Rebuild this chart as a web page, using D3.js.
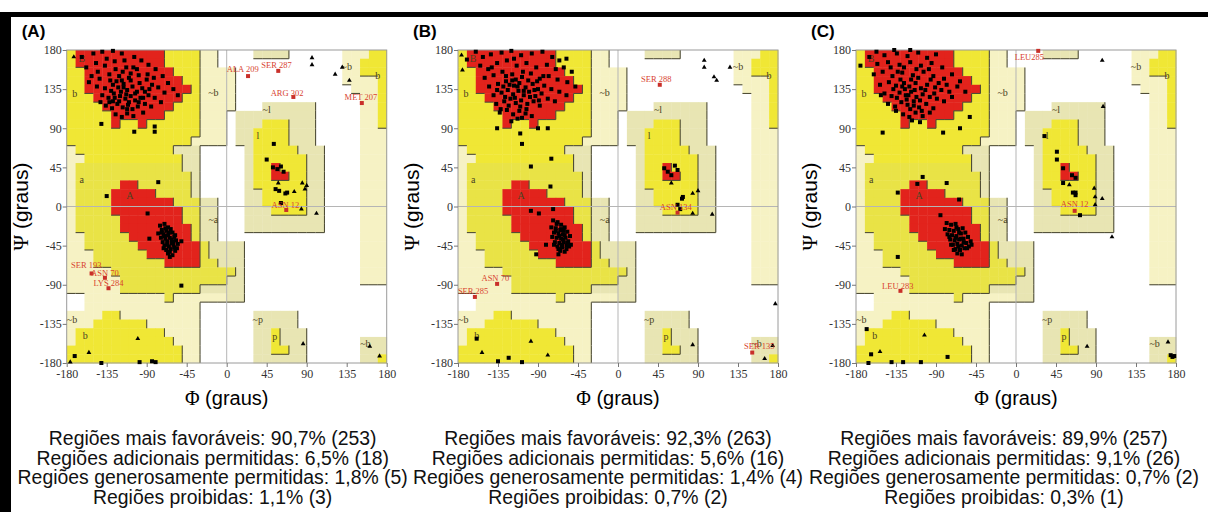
<!DOCTYPE html>
<html>
<head>
<meta charset="utf-8">
<script src="https://d3js.org/d3.v7.min.js"></script>
<style>
  body { margin: 0; background: #fff; }
  svg { display: block; }
</style>
</head>
<body>
<svg width="1208" height="512"></svg>
<script>
// Ramachandran region map, 10 degree cells. Row 0 is psi 170..180, column 0 is phi -180..-170
// . disallowed, c / t generously allowed, y / o additionally allowed, r most favoured
const regionRows = [
    "yrrrrrrrrrryyyycc....tttt......cccyy",
    "yrrrrrrrrrryyyycc..............ccyyy",
    "yyrrrrrrrrrryyycccc............ccyyy",
    "yyrrrrrrrrrrryycccc............ccccy",
    "yyrrrrrrrrrrrrycccc.............cccy",
    "yyyrrrrrrrrrryycccc..............ccy",
    "yyyyrrrrrrrryyycccc...tttttt.....ccy",
    "yyyyyrrrrrryyyyccc.ttttttttt.....ccy",
    "yyyyyryyryyyyyyccc.tttyyyttt.....ccy",
    "yyyyyyyyyyyyyyyccc.ttyyyyttt.....ccc",
    "yyyyyyyyyyyyyycccc.ttyyyyttt.....ccc",
    "cyyyyyyyyyyyttt.....tyyyyyttt....ccc",
    "ccyyyyyyyyyyytt.....tyyyyyytt....ccc",
    "coooooooooooott.....tyyryyytt....ccc",
    "cooooooooooooot.....tyyrryytt....ccc",
    "cooooorroooooot.....tyyyyyytt....ccc",
    "coooorrrrroooot.....ttyyyyytt....ccc",
    "coooorrrrrrrooott...ttyyyyytt....ccc",
    "coooorrrrrrrroott...tttyyyytt....ccc",
    "cooooorrrrrrroott...ttttttttt....ccc",
    "cooooorrrrrrrrott...ttttttttt....ccc",
    "ccooooorrrrrrrott................ccc",
    "ccoooooorrrrrrrotttt.............ccc",
    "cccoooooorrrrrrotttt.............ccc",
    "cccoooooooorrrroottt.............ccc",
    "cccccoooooooooooooot.............ccc",
    "ccccccoooooooooooott.............ccc",
    "ccccccooooooooottttt................",
    "..cccccccccocccccctt................",
    "..ccccccccccccc.....................",
    "ccccyyccccccccc......ttttt..........",
    "cccyyyyyycccccc......ttttt..........",
    "cyyyyyyyyyycccc......ttyttt.........",
    "cyyyyyyyyyyyccc......ttyttt......ttt",
    "yyyyyyyyyyyyycc......ttyytt......ttt",
    "yyyyyyyyyyyyycc......tttttt......tty"
];

const regionTags = [
    ["B", -163, 166], ["b", -171, 126], ["~b", -15, 127], ["a", -163, 27], ["A", -109, 9],
    ["~a", -15, -19], ["~l", 45, 107], ["l", 35, 78], ["~b", 135, 157], ["b", 170, 147],
    ["~b", -174, -134], ["b", -159, -152], ["~p", 35, -134], ["p", 54, -154], ["~b", 156, -162]
];

const phiTicks = [-180, -135, -90, -45, 0, 45, 90, 135, 180];
const psiTicks = [-180, -135, -90, -45, 0, 45, 90, 135, 180];

const statLabels = ["Regiões mais favoráveis", "Regiões adicionais permitidas",
    "Regiões generosamente permitidas", "Regiões proibidas"];

const panelNames = ["(A)", "(B)", "(C)"];

const statPctA = [90.7, 6.5, 1.8, 1.1];
const statCountA = [253, 18, 5, 3];
const statPctB = [92.3, 5.6, 1.4, 0.7];
const statCountB = [263, 16, 4, 2];
const statPctC = [89.9, 9.1, 0.7, 0.3];
const statCountC = [257, 26, 2, 1];

// residue points [phi, psi]
const squaresA = [
    [-163,172],[-150,176],[-140,178],[-128,179],[-118,176],[-104,172],[-96,168],[-88,163],[-158,160],[-147,165],
    [-137,162],[-126,167],[-113,160],[-101,158],[-80,158],[-72,150],[-66,142],[-152,150],[-143,147],[-132,152],
    [-121,150],[-110,148],[-99,151],[-90,146],[-84,140],[-77,137],[-70,131],[-60,135],[-55,128],[-146,138],
    [-137,136],[-128,140],[-122,137],[-116,141],[-112,134],[-106,138],[-101,132],[-95,136],[-88,128],[-81,125],
    [-74,120],[-140,128],[-133,125],[-127,130],[-120,127],[-114,124],[-108,127],[-103,122],[-97,125],[-92,118],
    [-85,115],[-136,116],[-129,113],[-123,118],[-117,114],[-111,117],[-106,112],[-100,115],[-94,108],[-125,106],
    [-118,103],[-112,107],[-105,104],[-132,120],[-119,132],[-124,144],[-117,155],[-108,145],[-130,133],[-113,129],
    [-98,142],[-142,120],[-89,152],[-105,160],[-125,158],[-135,170],[-115,168],[-145,155],[-155,143],[-92,132],
    [-82,148],[-121,121],[-110,120],[-126,125],[-116,137],[-103,130],[-94,125],[-131,145],[-108,153],[-99,120],
    [-87,135],[-118,145],[-112,112],[-128,121],
    [-75,-22],[-70,-20],[-66,-24],[-73,-27],[-68,-28],[-63,-26],[-77,-31],[-71,-32],[-66,-33],[-61,-30],
    [-74,-36],[-69,-37],[-64,-36],[-59,-35],[-72,-41],[-67,-40],[-62,-42],[-57,-39],[-70,-45],[-65,-46],
    [-60,-44],[-55,-43],[-68,-50],[-63,-49],[-58,-51],[-66,-54],[-61,-56],[-64,-58],[-70,-34],[-62,-38],
    [-67,-44],[-59,-47],[-73,-30],[-65,-30],[-69,-25],[-60,-40],[-64,-52],[-71,-48],[-56,-48],[-58,-33],
    [-141,95],[-104,86],[-81,92],[-81,86],[-77,28],[-135,12],[-89,-8],[-87,-37],[-51,-40],[-51,-91],
    [-171,-172],[-141,-180],[-98,-179],[-84,-178],[-80,-179],
    [53,72],[45,54],[52,45],[57,43],[61,46],[64,40],[55,20],[59,18],[66,15],[61,4],[68,16]
];
const trianglesA = [
    [-172,172],[-176,-179],[-155,-168],[-100,-152],[86,-158],[161,-161],[172,-172],[58,27],[76,17],[85,27],
    [88,20],[90,24],[84,-3],[101,-8],[96,171],[96,163],[122,152],[130,160],[138,145]
];
const labelledA = [
    ["ALA 209", 24, 150, 18, 155], ["SER 287", 58, 156, 56, 159], ["ARG 302", 75, 126, 68, 127],
    ["MET 207", 152, 119, 151, 122], ["ASN 12", 67, -4, 66, -2], ["SER 193", -152, -77, -158, -71],
    ["ASN 70", -137, -82, -137, -80], ["LYS 284", -133, -94, -133, -91]
];

const squaresB = [
    [-160,178],[-152,172],[-143,175],[-131,177],[-120,179],[-109,174],[-97,176],[-85,178],[-74,172],[-66,168],
    [-58,170],[-155,162],[-146,158],[-136,165],[-125,168],[-114,162],[-103,165],[-92,160],[-80,163],[-70,158],
    [-61,160],[-52,155],[-150,148],[-140,151],[-130,155],[-119,152],[-108,149],[-98,153],[-88,147],[-78,150],
    [-68,146],[-57,143],[-48,138],[-145,138],[-135,141],[-126,144],[-117,139],[-111,142],[-104,137],[-96,141],
    [-90,135],[-83,139],[-75,135],[-66,132],[-58,128],[-140,128],[-131,131],[-124,134],[-118,129],[-112,133],
    [-106,128],[-100,132],[-93,127],[-86,130],[-79,124],[-71,121],[-137,118],[-128,121],[-121,124],[-115,119],
    [-109,122],[-102,118],[-95,121],[-88,116],[-133,108],[-125,111],[-118,106],[-111,110],[-104,107],[-97,104],
    [-120,98],[-113,101],[-122,140],[-115,146],[-107,155],[-127,126],[-116,125],[-101,145],[-91,144],[-136,134],
    [-129,138],[-110,115],[-99,126],[-123,116],[-106,133],[-113,138],[-119,145],[-94,134],[-84,150],[-126,150],
    [-142,160],[-117,170],[-103,112],[-132,112],[-108,102],[-89,122],
    [-73,-16],[-68,-18],[-64,-21],[-75,-24],[-70,-25],[-65,-27],[-60,-24],[-72,-30],[-67,-31],[-62,-32],
    [-57,-29],[-74,-35],[-69,-36],[-64,-37],[-59,-36],[-54,-34],[-71,-41],[-66,-42],[-61,-41],[-56,-40],
    [-68,-46],[-63,-47],[-58,-45],[-53,-44],[-65,-51],[-60,-52],[-67,-55],[-62,-38],[-70,-28],[-58,-49],
    [-66,-34],[-63,-44],[-69,-20],[-61,-28],[-72,-44],[-55,-46],[-64,-26],[-60,-33],[-67,-49],[-57,-42],
    [-170,169],[-136,90],[-110,84],[-108,72],[-90,90],[-79,90],[-75,55],[-98,46],[-76,23],[-98,-5],
    [-89,-8],[-73,-3],[-81,-44],[-92,-55],[-159,-152],[-135,-178],[-123,-174],[-108,-179],
    [52,44],[56,40],[60,36],[64,47],[67,42],[73,11],[67,2],[72,9],[70,-3]
];
const trianglesB = [
    [-176,174],[-175,157],[-153,-168],[-98,-155],[-79,-171],[84,-159],[174,-160],[165,-175],[177,-112],[97,168],
    [97,160],[108,149],[111,145],[126,160],[60,27],[84,-8],[106,-9],[84,15],[90,18]
];
const labelledB = [
    ["SER 288", 47, 140, 43, 143], ["ASN 134", 67, -7, 65, -4], ["ASN 70", -136, -89, -138, -86],
    ["SER 285", -161, -104, -163, -101], ["SER 135", 151, -168, 159, -164]
];

const squaresC = [
    [-165,172],[-148,174],[-134,176],[-122,173],[-110,177],[-100,171],[-90,175],[-156,164],[-144,166],[-131,163],
    [-119,166],[-107,162],[-95,165],[-83,160],[-160,152],[-150,155],[-139,150],[-128,154],[-116,151],[-104,155],
    [-93,150],[-81,147],[-72,152],[-63,144],[-153,140],[-143,143],[-135,139],[-126,142],[-120,138],[-113,142],
    [-107,136],[-100,140],[-91,137],[-84,134],[-75,132],[-66,138],[-57,132],[-148,130],[-140,127],[-131,131],
    [-124,128],[-118,132],[-112,126],[-105,129],[-97,126],[-89,124],[-81,121],[-72,126],[-144,118],[-136,115],
    [-129,120],[-122,117],[-115,121],[-109,114],[-101,118],[-93,113],[-127,106],[-120,103],[-113,108],[-105,104],
    [-134,125],[-125,135],[-118,146],[-130,146],[-110,148],[-102,134],[-96,146],[-123,123],[-138,135],[-115,116],
    [-108,122],[-87,142],[-78,140],[-141,160],[-126,160],[-112,158],[-98,158],[-152,128],[-135,110],[-119,112],
    [-106,110],[-92,130],[-121,128],[-128,138],[-114,134],[-133,155],[-97,108],[-108,97],[-117,99],
    [-78,-19],[-73,-21],[-68,-20],[-80,-26],[-75,-27],[-70,-28],[-65,-26],[-60,-25],[-77,-32],[-72,-33],
    [-67,-34],[-62,-31],[-57,-30],[-74,-38],[-69,-39],[-64,-38],[-59,-37],[-54,-35],[-71,-44],[-66,-43],
    [-61,-45],[-56,-42],[-51,-40],[-68,-49],[-63,-50],[-58,-48],[-53,-46],[-66,-54],[-61,-55],[-70,-50],
    [-64,-30],[-59,-41],[-73,-44],[-67,-24],[-62,-37],[-55,-48],[-75,-35],[-68,-36],[-50,-44],[-65,-46],
    [-175,162],[-157,178],[-137,180],[-119,180],[-52,103],[-150,85],[-82,85],[-63,90],[-105,34],[-111,26],
    [-78,27],[-133,16],[-64,8],[-85,-10],[-133,-58],[-168,-141],[-163,-170],[-166,-180],[-140,-179],[-127,-179],
    [-107,-179],[-77,-173],[174,-171],[176,-173],[178,-172],
    [32,81],[46,63],[46,54],[53,44],[63,36],[67,33],[53,27],[64,16],[67,13],[67,16],[72,-10]
];
const trianglesC = [
    [97,168],[98,115],[60,25],[88,21],[89,2],[89,11],[97,9],[108,-35],[-153,-167],[-103,-148],[80,-161],[171,-156]
];
const labelledC = [
    ["LEU285", 25, 179, 15, 168], ["ASN 12", 66, -5, 66, -1], ["LEU 283", -130, -97, -133, -95]
];

const panels = [
    { name: panelNames[0], left: 66.7, statShift: -14, pct: statPctA, count: statCountA, squares: squaresA, triangles: trianglesA, labelled: labelledA },
    { name: panelNames[1], left: 458, statShift: -10, pct: statPctB, count: statCountB, squares: squaresB, triangles: trianglesB, labelled: labelledB },
    { name: panelNames[2], left: 856, statShift: -12, pct: statPctC, count: statCountC, squares: squaresC, triangles: trianglesC, labelled: labelledC }
];

const svg = d3.select("svg");
const level = { ".": 0, c: 1, t: 1, y: 2, o: 2, r: 3 };
const fill = { ".": "#ffffff", c: "#f6f2c4", t: "#e8e5b3", y: "#f0e735", o: "#e9e346", r: "#e2231c" };
const fmt = v => d3.format(".1f")(v).replace(".", ",");

const cells = [];
regionRows.forEach((row, j) => row.split("").forEach((code, i) => {
    cells.push({ i, j, code, phi: -180 + i * 10, psi: 180 - j * 10 });
}));

// PROCHECK style edge: dark line where the cell on the left/top is better than its neighbour
const edges = [];
cells.forEach(d => {
    const lv = level[d.code];
    if (d.i < 35 && lv > level[regionRows[d.j][d.i + 1]])
        edges.push([d.phi + 10, d.psi, d.phi + 10, d.psi - 10]);
    if (d.j < 35 && lv > level[regionRows[d.j + 1][d.i]])
        edges.push([d.phi, d.psi - 10, d.phi + 10, d.psi - 10]);
});

// frame
svg.append("rect").attr("x", 6).attr("y", 12).attr("width", 1202).attr("height", 5).attr("fill", "#000");
svg.append("rect").attr("x", 0).attr("y", 12).attr("width", 11).attr("height", 500).attr("fill", "#000");

const drawPanel = (p) => {
    const x = d3.scaleLinear().domain([-180, 180]).range([p.left, p.left + 320]);
    const y = d3.scaleLinear().domain([-180, 180]).range([363, 50]);
    const g = svg.append("g");

    g.append("g").selectAll("rect")
        .data(cells)
        .join("rect")
        .attr("x", d => x(d.phi))
        .attr("y", d => y(d.psi))
        .attr("width", x(10) - x(0) + 0.4)
        .attr("height", y(0) - y(10) + 0.4)
        .attr("fill", d => fill[d.code]);

    g.append("g").selectAll("line")
        .data(edges)
        .join("line")
        .attr("x1", d => x(d[0])).attr("y1", d => y(d[1]))
        .attr("x2", d => x(d[2])).attr("y2", d => y(d[3]))
        .attr("stroke", "#4f4d36")
        .attr("stroke-width", 1.1);

    g.append("line").attr("x1", x(0)).attr("x2", x(0)).attr("y1", y(180)).attr("y2", y(-180))
        .attr("stroke", "#b5b5b5").attr("stroke-width", 1);
    g.append("line").attr("x1", x(-180)).attr("x2", x(180)).attr("y1", y(0)).attr("y2", y(0))
        .attr("stroke", "#b5b5b5").attr("stroke-width", 1);
    g.append("rect")
        .attr("x", x(-180)).attr("y", y(180))
        .attr("width", x(180) - x(-180)).attr("height", y(-180) - y(180))
        .attr("fill", "none").attr("stroke", "#9a9a9a").attr("stroke-width", 1);

    g.append("g").selectAll("text")
        .data(regionTags)
        .join("text")
        .attr("x", d => x(d[1]))
        .attr("y", d => y(d[2]))
        .attr("text-anchor", "middle")
        .attr("font-family", "Liberation Serif")
        .attr("font-size", 10)
        .attr("fill", "#4a4222")
        .text(d => d[0]);

    const yAxis = g.append("g")
        .attr("transform", `translate(${x(-180)},0)`)
        .call(d3.axisLeft(y).tickValues(psiTicks).tickFormat(d => String(d)).tickSize(4).tickPadding(1));
    const xAxis = g.append("g")
        .attr("transform", `translate(0,${y(-180)})`)
        .call(d3.axisBottom(x).tickValues(phiTicks).tickFormat(d => String(d)).tickSize(4).tickPadding(2));
    [xAxis, yAxis].forEach(a => {
        a.select(".domain").remove();
        a.selectAll("line").attr("stroke", "#777");
        a.selectAll("text").attr("font-family", "Liberation Serif").attr("font-size", 12).attr("fill", "#333");
    });

    g.append("g").selectAll("rect")
        .data(p.squares)
        .join("rect")
        .attr("x", d => x(d[0]) - 2)
        .attr("y", d => y(d[1]) - 2)
        .attr("width", 4).attr("height", 4)
        .attr("fill", "#000");

    g.append("g").selectAll("path")
        .data(p.triangles)
        .join("path")
        .attr("transform", d => `translate(${x(d[0])},${y(d[1])})`)
        .attr("d", d3.symbol(d3.symbolTriangle, 10))
        .attr("fill", "#000");

    g.append("g").selectAll("rect")
        .data(p.labelled)
        .join("rect")
        .attr("x", d => x(d[1]) - 2)
        .attr("y", d => y(d[2]) - 2)
        .attr("width", 4).attr("height", 4)
        .attr("fill", "#c9302a");

    g.append("g").selectAll("text")
        .data(p.labelled)
        .join("text")
        .attr("x", d => x(d[3]))
        .attr("y", d => y(d[4]))
        .attr("text-anchor", "middle")
        .attr("font-family", "Liberation Serif")
        .attr("font-size", 8.5)
        .attr("fill", "#d8432f")
        .text(d => d[0]);

    g.append("text")
        .attr("x", p.left - 45)
        .attr("y", 37)
        .attr("font-family", "Liberation Sans")
        .attr("font-weight", "bold")
        .attr("font-size", 17)
        .text(p.name);

    const cx = (x(-180) + x(180)) / 2;
    const psiTitle = g.append("text")
        .attr("transform", `translate(${p.left - 39},${y(0)}) rotate(-90)`)
        .attr("text-anchor", "middle")
        .attr("font-family", "Liberation Sans")
        .attr("font-size", 21);
    psiTitle.append("tspan").attr("font-family", "Liberation Serif").text("Ψ");
    psiTitle.append("tspan").text(" (graus)");

    const phiTitle = g.append("text")
        .attr("x", cx)
        .attr("y", 405)
        .attr("text-anchor", "middle")
        .attr("font-family", "Liberation Sans")
        .attr("font-size", 20);
    phiTitle.append("tspan").attr("font-family", "Liberation Serif").text("Φ");
    phiTitle.append("tspan").text(" (graus)");

    g.append("g").selectAll("text")
        .data(statLabels)
        .join("text")
        .attr("x", cx + p.statShift)
        .attr("y", (d, k) => 445 + k * 19.7)
        .attr("text-anchor", "middle")
        .attr("font-family", "Liberation Sans")
        .attr("font-size", 19.4)
        .attr("fill", "#111")
        .text((d, k) => `${d}: ${fmt(p.pct[k])}% (${p.count[k]})`);
};

panels.forEach(drawPanel);
</script>
</body>
</html>
